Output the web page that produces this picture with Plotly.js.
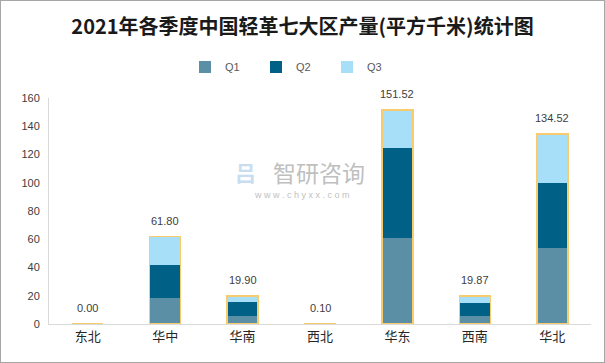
<!DOCTYPE html>
<html><head><meta charset="utf-8">
<script src="https://cdn.plot.ly/plotly-3.0.1.min.js"></script>
<style>html,body{margin:0;padding:0;background:#fff}#c{width:603px;height:361px;border:1px solid #A6A6A6;}</style>
</head><body><div id="c"></div>
<script>
const regions = ['东北','华中','华南','西北','华东','西南','华北'];
const q1 = [0, 18.2, 5.7, 0.03, 61.0, 5.7, 53.9];
const q2 = [0, 23.6, 10.1, 0.04, 63.8, 9.4, 46.1];
const q3 = [0, 20.0, 4.1, 0.03, 26.72, 4.77, 34.52];
const totals = [0.00, 61.80, 19.90, 0.10, 151.52, 19.87, 134.52];
const yTicks = [0,20,40,60,80,100,120,140,160];

const colors = {q1:'#5B8FA6', q2:'#006085', q3:'#A6DFF7', edge:'#F8CC6E'};
const cjk = '"Noto Sans CJK SC", "Microsoft YaHei", sans-serif';
const lat = '"Liberation Sans", Arial, sans-serif';

const mk = (name, y, c) => ({type:'bar', name, x:regions, y, marker:{color:c, line:{width:0}}, hoverinfo:'skip'});
const traces = [
  mk('Q1', q1, colors.q1), mk('Q2', q2, colors.q2), mk('Q3', q3, colors.q3),
  {type:'bar', x:regions, y:totals, xaxis:'x2', yaxis:'y2', showlegend:false,
   marker:{color:'rgba(0,0,0,0)', line:{color:colors.edge, width:1.5}}, hoverinfo:'skip'}
];

const px = v => (v-49)/542, py = v => (324-v)/226;
const annotations = regions.map((r,i)=>({x:r, y:totals[i], xref:'x', yref:'y', text:totals[i].toFixed(2),
  showarrow:false, yshift:16, font:{family:lat, size:11, color:'#404040'}}));
annotations.push({xref:'paper', yref:'paper', x:px(319), y:py(172), xanchor:'center', yanchor:'middle', text:'智研咨询', showarrow:false,
  font:{family:cjk, size:23, color:'#BFBFBF'}});
annotations.push({xref:'paper', yref:'paper', x:px(302), y:py(195), xanchor:'center', yanchor:'middle', text:'w w w . c h y x x . c o m', showarrow:false,
  font:{family:lat, size:9, color:'#BFBFBF'}});
annotations.push({xref:'paper', yref:'paper', x:px(245), y:py(172), xanchor:'center', yanchor:'middle', text:'<b>吕</b>', showarrow:false,
  font:{family:cjk, size:21, color:'#C9DDF0'}});

const layout = {
  width:603, height:361,
  margin:{l:48, r:13, t:97, b:38, pad:0},
  paper_bgcolor:'#fff', plot_bgcolor:'#fff',
  barmode:'stack', bargap:0.6,
  title:{text:'<b>2021年各季度中国轻革七大区产量(平方千米)统计图</b>', x:0.5, xanchor:'center', y:1-26/361, yanchor:'middle',
    font:{family:cjk, size:20, color:'#1a1a1a'}},
  showlegend:true,
  legend:{orientation:'h', x:px(185), xanchor:'left', y:1+(97-66)/226, yanchor:'middle',
    font:{family:lat, size:11, color:'#595959'}, entrywidth:26, entrywidthmode:'pixels', itemwidth:30, traceorder:'normal'},
  xaxis:{type:'category', showline:true, linecolor:'#D9D9D9', linewidth:1, ticks:'', showgrid:false,
    tickfont:{family:cjk, size:13, color:'#262626'}, fixedrange:true},
  yaxis:{range:[0,160], tickvals:yTicks, showgrid:false, showline:true, linecolor:'#D9D9D9', zeroline:false, ticks:'',
    tickfont:{family:lat, size:11, color:'#404040'}, ticklabelstandoff:6},
  xaxis2:{type:'category', overlaying:'x', matches:'x', visible:false},
  yaxis2:{overlaying:'y', matches:'y', range:[0,160], visible:false},
  annotations
};
Plotly.newPlot('c', traces, layout, {displayModeBar:false, staticPlot:true});
</script></body></html>
